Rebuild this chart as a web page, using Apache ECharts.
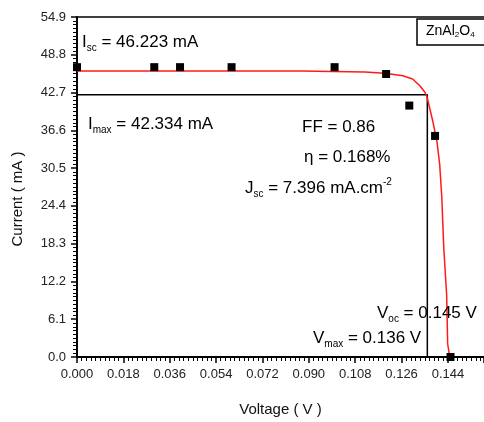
<!DOCTYPE html>
<html>
<head>
<meta charset="utf-8">
<script src="https://cdn.jsdelivr.net/npm/echarts@6/dist/echarts.min.js"></script>
<style>
  html, body { margin: 0; padding: 0; background: #fff; }
  #chart { width: 484px; height: 422px; }
</style>
</head>
<body>
<div id="chart"></div>
<script>
// measured I-V points (black squares)
const measV = [0.000, 0.030, 0.040, 0.060, 0.100, 0.120, 0.129, 0.139, 0.145];
const measI = [46.8, 46.8, 46.8, 46.8, 46.8, 45.7, 40.6, 35.7, 0.0];
// fitted curve (red line)
const fitV = [0.000, 0.048, 0.087, 0.1117, 0.1195, 0.1265, 0.1303, 0.1331, 0.1350, 0.1358,
  0.1369, 0.1381, 0.1397, 0.1408, 0.1416, 0.1424, 0.1435, 0.1439, 0.1447];
const fitI = [46.2, 46.2, 46.2, 46.0, 45.8, 45.4, 44.9, 43.8, 42.8, 42.1,
  40.2, 38.1, 34.9, 31.1, 25.9, 17.5, 10.0, 2.1, 0.0];
// maximum power point
const vMax = 0.136;
const iMax = 42.334;
// axes (the plot is cut at the right edge of the picture)
const xMin = 0, xMax = 0.158, xStep = 0.018;
const yMin = 0, yMax = 54.9, yStep = 6.1;

const FONT = '"Liberation Sans", Arial, sans-serif';
const rich = {
  m: { fontSize: 17, fontFamily: FONT, color: '#111', lineHeight: 22 },
  s: { fontSize: 10, fontFamily: FONT, color: '#111', lineHeight: 4, verticalAlign: 'bottom' },
  p: { fontSize: 10, fontFamily: FONT, color: '#111', lineHeight: 10, verticalAlign: 'top' },
  a: { fontSize: 14, fontFamily: FONT, color: '#111', lineHeight: 16 },
  b: { fontSize: 8, fontFamily: FONT, color: '#111', lineHeight: 4, verticalAlign: 'bottom' }
};

function note(x, y, text) {
  return {
    type: 'text', x: x, y: y, z: 100,
    style: { text: text, rich: rich, align: 'left', verticalAlign: 'middle' }
  };
}

let myChart = echarts.init(document.getElementById('chart'));

const option = {
  animation: false,
  grid: { left: 77, top: 17, right: 0, bottom: 59 },
  xAxis: [
    {
      type: 'value', min: xMin, max: xMax, interval: xStep,
      name: 'Voltage ( V )', nameLocation: 'middle', nameGap: 45,
      nameTextStyle: { fontSize: 15, fontFamily: FONT, color: '#111' },
      axisLine: { show: true, onZero: false, lineStyle: { color: '#000', width: 2 } },
      axisTick: { show: true, length: 6, lineStyle: { color: '#000', width: 1.5 } },
      minorTick: { show: true, splitNumber: 10, length: 4, lineStyle: { color: '#000', width: 1 } },
      splitLine: { show: false },
      axisLabel: {
        margin: 11, fontSize: 13, fontFamily: FONT, color: '#222',
        showMaxLabel: false,
        formatter: v => v.toFixed(3)
      }
    },
    {
      // top frame line only
      type: 'value', position: 'top', min: xMin, max: xMax, interval: xStep,
      axisLine: { show: true, onZero: false, lineStyle: { color: '#000', width: 1.5 } },
      axisTick: { show: false }, axisLabel: { show: false }, splitLine: { show: false }
    }
  ],
  yAxis: {
    type: 'value', min: yMin, max: yMax, interval: yStep,
    axisLine: { show: true, onZero: false, lineStyle: { color: '#000', width: 2 } },
    axisTick: { show: true, length: 6, lineStyle: { color: '#000', width: 1.5 } },
    minorTick: { show: true, splitNumber: 10, length: 4, lineStyle: { color: '#000', width: 1 } },
    splitLine: { show: false },
    axisLabel: {
      margin: 11, fontSize: 13, fontFamily: FONT, color: '#222',
      formatter: v => v.toFixed(1)
    }
  },
  series: [
    {
      name: 'Pmax', type: 'line', symbol: 'none', silent: true,
      lineStyle: { color: '#000', width: 1.5 },
      data: [[xMin, iMax], [vMax, iMax], [vMax, yMin]],
      z: 1
    },
    {
      name: 'fit', type: 'line', symbol: 'none', silent: true,
      lineStyle: { color: '#ff1a1a', width: 1.5 },
      data: fitV.map((v, i) => [v, fitI[i]]),
      z: 2
    },
    {
      name: 'ZnAl2O4', type: 'scatter', symbol: 'rect', symbolSize: 8,
      itemStyle: { color: '#000', opacity: 1 },
      data: measV.map((v, i) => [v, measI[i]]),
      z: 3
    }
  ],
  graphic: [
    {
      type: 'text', x: 18, y: 199, rotation: Math.PI / 2,
      style: { text: 'Current ( mA )', font: '15px ' + FONT, fill: '#111', align: 'center', verticalAlign: 'middle' }
    },
    // sample label box, cut by the right edge like the original
    {
      type: 'rect', z: 90,
      shape: { x: 417, y: 19, width: 90, height: 26 },
      style: { fill: '#fff', stroke: '#000', lineWidth: 1.5 }
    },
    note(426, 31, '{a|ZnAl}{b|2}{a|O}{b|4}'),
    note(82, 42, '{m|I}{s|sc}{m| = 46.223 mA}'),
    note(88, 124, '{m|I}{s|max}{m| = 42.334 mA}'),
    note(302, 127, '{m|FF = 0.86}'),
    note(304, 157, '{m|η = 0.168%}'),
    note(245, 188, '{m|J}{s|sc}{m| = 7.396 mA.cm}{p|-2}'),
    note(377, 313, '{m|V}{s|oc}{m| = 0.145 V}'),
    note(313, 338, '{m|V}{s|max}{m| = 0.136 V}')
  ]
};

myChart.setOption(option);
</script>
</body>
</html>
